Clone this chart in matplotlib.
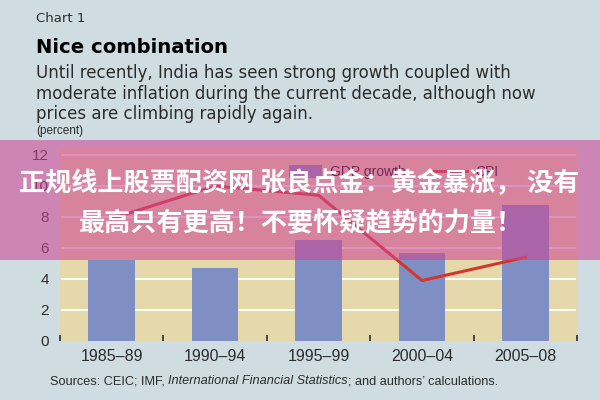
import matplotlib
matplotlib.use("Agg")
import matplotlib.pyplot as plt
import numpy as np
from matplotlib.patches import Rectangle, Patch
from matplotlib.lines import Line2D

plt.rcParams["font.family"] = ["Liberation Sans", "DejaVu Sans"]

periods = ["1985\u201389", "1990\u201394", "1995\u201399", "2000\u201304", "2005\u201308"]
gdp_growth = [5.2, 4.7, 6.5, 5.7, 8.8]
cpi = [7.9, 10.0, 9.4, 3.9, 5.4]
y_ticks = [0, 2, 4, 6, 8, 10, 12]

BG = "#cfdde3"
PLOT_BG = "#e5d8ab"
BAR_COLOR = "#7f8fc4"
LINE_COLOR = "#d3362a"
TEXT_DARK = "#2b2b2b"

fig = plt.figure(figsize=(6, 4), dpi=100, facecolor=BG)
ax = fig.add_axes([0.1, 0.1475, 0.862, 0.4825])
ax.set_facecolor(PLOT_BG)

x = np.arange(len(periods))
ax.bar(x, gdp_growth, width=0.45, color=BAR_COLOR, zorder=2)
ax.plot(x, cpi, color=LINE_COLOR, linewidth=2.2, zorder=3)

ax.set_xlim(-0.5, len(periods) - 0.5)
ax.set_ylim(0, 12.45)
ax.set_yticks(y_ticks)
ax.set_yticklabels([str(v) for v in y_ticks], fontsize=11, color=TEXT_DARK)
for v in y_ticks[1:]:
    ax.axhline(v, xmin=0.004, xmax=0.996, color="white", linewidth=1.3, zorder=1)

ax.set_xticks(x)
ax.set_xticklabels(periods, fontsize=11.5, color=TEXT_DARK)
ax.set_xticks(np.arange(len(periods) + 1) - 0.5, minor=True)
ax.tick_params(axis="x", which="major", length=0, pad=6)
ax.tick_params(axis="x", which="minor", direction="in", length=4, width=1.2, color=TEXT_DARK)
ax.tick_params(axis="y", length=0, pad=8)
for spine in ax.spines.values():
    spine.set_visible(False)

handles = [Patch(facecolor=BAR_COLOR), Line2D([0], [0], color=LINE_COLOR, linewidth=2.2)]
ax.legend(handles, ["GDP growth", "CPI"], loc="upper center", bbox_to_anchor=(0.645, 0.975),
          ncol=2, frameon=False, fontsize=10, handlelength=2.4, handleheight=1.0,
          handletextpad=0.6, columnspacing=2.0)

# header text
fig.text(0.06, 0.955, "Chart 1", fontsize=9.5, color=TEXT_DARK, va="center",
         family=["DejaVu Sans"])
fig.text(0.06, 0.882, "Nice combination", fontsize=14.1, fontweight="bold", color="black",
         va="center", family=["DejaVu Sans"])
subtitle = ["Until recently, India has seen strong growth coupled with",
            "moderate inflation during the current decade, although now",
            "prices are climbing rapidly again."]
for i, line in enumerate(subtitle):
    fig.text(0.06, 0.817 - i * 0.051, line, fontsize=12.0, color=TEXT_DARK, va="center",
             family=["DejaVu Sans"])
fig.text(0.06, 0.672, "(percent)", fontsize=8.5, color=TEXT_DARK, va="center")

# source line, pieces placed one after another
renderer = fig.canvas.get_renderer()
src_parts = [("Sources: CEIC; IMF, ", "normal"),
             ("International Financial Statistics", "italic"),
             ("; and authors\u2019 calculations.", "normal")]
x_pos = 0.083
for txt, st in src_parts:
    t = fig.text(x_pos, 0.047, txt, fontsize=9.2, style=st, color=TEXT_DARK, va="center")
    bb = t.get_window_extent(renderer=renderer)
    x_pos += bb.width / fig.bbox.width

# overlay banner
fig.patches.append(Rectangle((0, 0.35), 1, 0.30, transform=fig.transFigure,
                             facecolor="#cd4696", alpha=0.58, edgecolor="none", zorder=10))
banner_font = ["Noto Sans CJK SC", "DejaVu Sans"]
fig.text(0.498, 0.54, "正规线上股票配资网 张良点金：黄金暴涨， 没有", fontsize=18.8, fontweight="bold",
         color="white", ha="center", va="center", family=banner_font, zorder=11)
fig.text(0.502, 0.44, "最高只有更高！不要怀疑趋势的力量！", fontsize=18.8, fontweight="bold",
         color="white", ha="center", va="center", family=banner_font, zorder=11)

fig.savefig("out.png", dpi=100, facecolor=BG)
